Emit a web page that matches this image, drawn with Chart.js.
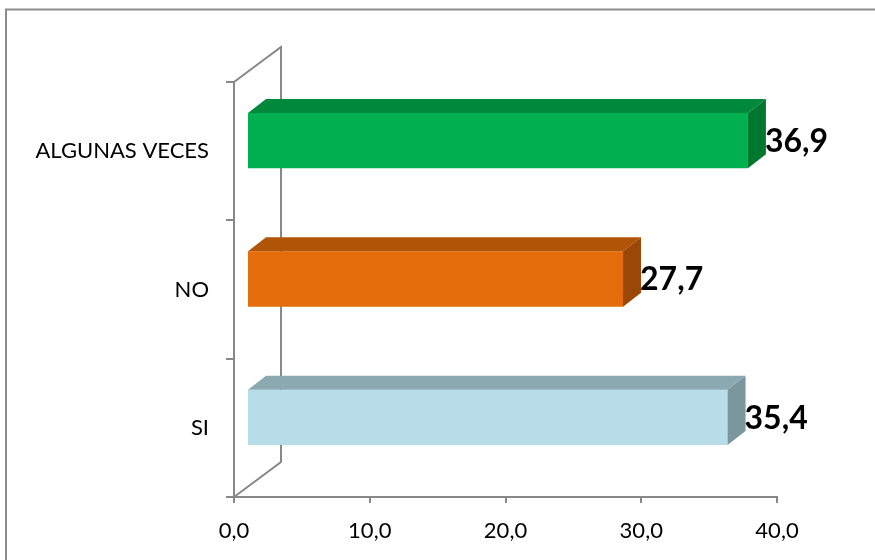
<!DOCTYPE html>
<html>
<head>
<meta charset="utf-8">
<script src="https://cdn.jsdelivr.net/npm/chart.js@4/dist/chart.umd.min.js"></script>
<style>
  html, body { margin: 0; padding: 0; background: #fff; }
  #wrap { position: relative; width: 875px; height: 560px; }
</style>
</head>
<body>
<div id="wrap"><canvas id="chart" width="875" height="560"></canvas></div>
<script>
  // Respuestas (de arriba hacia abajo)
  const categorias = ['ALGUNAS VECES', 'NO', 'SI'];
  const porcentajes = [36.9, 27.7, 35.4];
  const ejeTicks = [0, 10, 20, 30, 40];

  const frente = ['#00B050', '#E46C0A', '#B7DEE8'];
  const techo = ['#00883C', '#B05408', '#8BA9B1'];
  const lado = ['#00772F', '#9A4806', '#7A979E'];

  const FONT = 'Lato, "Open Sans", sans-serif';
  const fmt = v => Number(v).toFixed(1).replace('.', ',');

  // desplazamientos de la perspectiva
  const PARED = { dx: 47, dy: -35 };
  const BARRA = { ox: 13, oy: -10.5, dx: 18, dy: -14 };

  const marco3d = {
    id: 'marco3d',
    beforeDraw(chart) {
      const ctx = chart.ctx;
      ctx.save();
      ctx.strokeStyle = '#8c8c8c';
      ctx.lineWidth = 2;
      ctx.beginPath();
      ctx.moveTo(6, 560);
      ctx.lineTo(6, 9.5);
      ctx.lineTo(875, 9.5);
      ctx.stroke();
      ctx.restore();
    },
    beforeDatasetsDraw(chart) {
      const ctx = chart.ctx;
      const a = chart.chartArea;
      ctx.save();
      ctx.strokeStyle = '#888888';
      ctx.lineWidth = 2;
      ctx.beginPath();
      ctx.moveTo(a.left, a.top);
      ctx.lineTo(a.left + PARED.dx, a.top + PARED.dy);
      ctx.lineTo(a.left + PARED.dx, a.bottom + PARED.dy);
      ctx.lineTo(a.left, a.bottom);
      ctx.stroke();
      ctx.restore();
      ctx.save();
      ctx.translate(BARRA.ox, BARRA.oy);
    },
    afterDatasetsDraw(chart) {
      const ctx = chart.ctx;
      ctx.restore();
      const meta = chart.getDatasetMeta(0);
      ctx.save();
      meta.data.forEach((bar, i) => {
        const L = bar.base + BARRA.ox;
        const R = bar.x + BARRA.ox;
        const T = bar.y - bar.height / 2 + BARRA.oy;
        const B = bar.y + bar.height / 2 + BARRA.oy;
        const dx = BARRA.dx, dy = BARRA.dy;
        // cara superior
        ctx.fillStyle = techo[i];
        ctx.beginPath();
        ctx.moveTo(L, T);
        ctx.lineTo(L + dx, T + dy);
        ctx.lineTo(R + dx, T + dy);
        ctx.lineTo(R, T);
        ctx.closePath();
        ctx.fill();
        // cara lateral
        ctx.fillStyle = lado[i];
        ctx.beginPath();
        ctx.moveTo(R, T);
        ctx.lineTo(R + dx, T + dy);
        ctx.lineTo(R + dx, B + dy);
        ctx.lineTo(R, B);
        ctx.closePath();
        ctx.fill();
        // etiqueta de valor
        ctx.fillStyle = '#000';
        ctx.font = 'bold 32px ' + FONT;
        ctx.textAlign = 'left';
        ctx.textBaseline = 'middle';
        ctx.fillText(fmt(porcentajes[i]), R + dx - 1, (T + B) / 2 + 1);
      });
      ctx.restore();
    }
  };

  new Chart(document.getElementById('chart'), {
    type: 'bar',
    data: {
      labels: categorias,
      datasets: [{
        data: porcentajes,
        backgroundColor: frente,
        borderWidth: 0,
        barPercentage: 0.4,
        categoryPercentage: 1
      }]
    },
    options: {
      indexAxis: 'y',
      responsive: false,
      animation: false,
      layout: { padding: { top: 82, right: 98, left: 0, bottom: 0 } },
      plugins: { legend: { display: false }, tooltip: { enabled: false } },
      scales: {
        x: {
          min: 0,
          max: 40,
          afterBuildTicks: s => { s.ticks = ejeTicks.map(v => ({ value: v })); },
          afterFit: s => { s.height = 63; },
          ticks: {
            callback: v => fmt(v),
            color: '#000',
            font: { family: FONT, size: 22 },
            padding: 15,
            maxRotation: 0
          },
          grid: { drawOnChartArea: false, color: '#888888', lineWidth: 2, tickLength: 6 },
          border: { color: '#888888', width: 2 }
        },
        y: {
          afterFit: s => { s.width = 234; },
          ticks: {
            color: '#000',
            font: { family: FONT, size: 22 },
            padding: 17
          },
          grid: { drawOnChartArea: false, offset: true, color: '#888888', lineWidth: 2, tickLength: 8 },
          border: { color: '#888888', width: 2 }
        }
      }
    },
    plugins: [marco3d]
  });
</script>
</body>
</html>
